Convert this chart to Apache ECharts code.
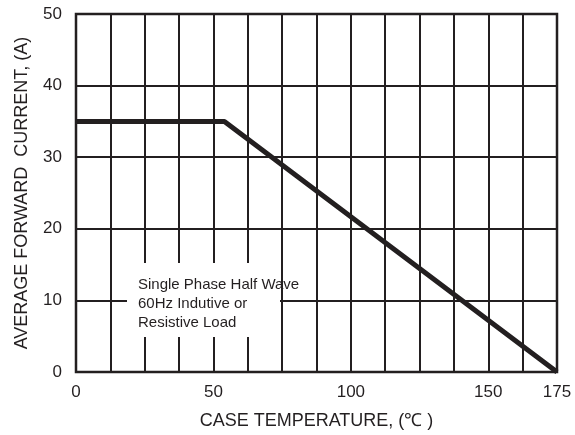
<!DOCTYPE html>
<html>
<head>
<meta charset="utf-8">
<script src="https://cdn.jsdelivr.net/npm/echarts@6/dist/echarts.min.js"></script>
<style>html,body{margin:0;padding:0;background:#fff}#c{width:575px;height:435px}</style>
</head>
<body>
<div id="c"></div>
<script>
const curveTemp = [0, 54, 175];
const curveCurrent = [35, 35, 0];
const xLabelsShown = [0, 50, 100, 150, 175];
const xTitle = 'CASE TEMPERATURE, (\u2103 )';
const yTitle = 'AVERAGE FORWARD  CURRENT, (A)';
const noteLines = ['Single Phase Half Wave', '60Hz Indutive or', 'Resistive Load'];

const ink = '#231f20';
const font = "'Liberation Sans', Arial, sans-serif";
const chart = echarts.init(document.getElementById('c'));
chart.setOption({
  animation: false,
  backgroundColor: '#fff',
  grid: { left: 76, right: 18, top: 14, bottom: 63, show: true, borderColor: ink, borderWidth: 2.5, backgroundColor: 'transparent' },
  xAxis: {
    type: 'value', min: 0, max: 175, interval: 12.5,
    axisLine: { show: false }, axisTick: { show: false },
    splitLine: { show: true, lineStyle: { color: ink, width: 2 } },
    axisLabel: {
      color: ink, fontSize: 17, fontFamily: font, margin: 12,
      formatter: v => xLabelsShown.includes(v) ? String(v) : '',
      showMinLabel: true, showMaxLabel: true
    },
    name: xTitle, nameLocation: 'middle', nameGap: 40,
    nameTextStyle: { color: ink, fontSize: 18, fontFamily: font, padding: [0, 0, 0, 0] }
  },
  yAxis: {
    type: 'value', min: 0, max: 50, interval: 10,
    axisLine: { show: false }, axisTick: { show: false },
    splitLine: { show: true, lineStyle: { color: ink, width: 2 } },
    axisLabel: { color: ink, fontSize: 17, fontFamily: font, margin: 14 },
    name: yTitle, nameLocation: 'middle', nameGap: 45,
    nameTextStyle: { color: ink, fontSize: 18, fontFamily: font }
  },
  series: [{
    type: 'line',
    data: curveTemp.map((t, i) => [t, curveCurrent[i]]),
    symbol: 'none',
    lineStyle: { color: ink, width: 5 },
    z: 5
  }],
  graphic: [
    { type: 'rect', shape: { x: 127, y: 263, width: 153, height: 74 }, style: { fill: '#fff' }, z: 10 },
    { type: 'text', x: 138, y: 275, z: 11,
      style: { text: noteLines.join('\n'), fill: ink, font: "15px 'Liberation Sans', Arial, sans-serif", lineHeight: 19 } }
  ]
});
</script>
</body>
</html>
